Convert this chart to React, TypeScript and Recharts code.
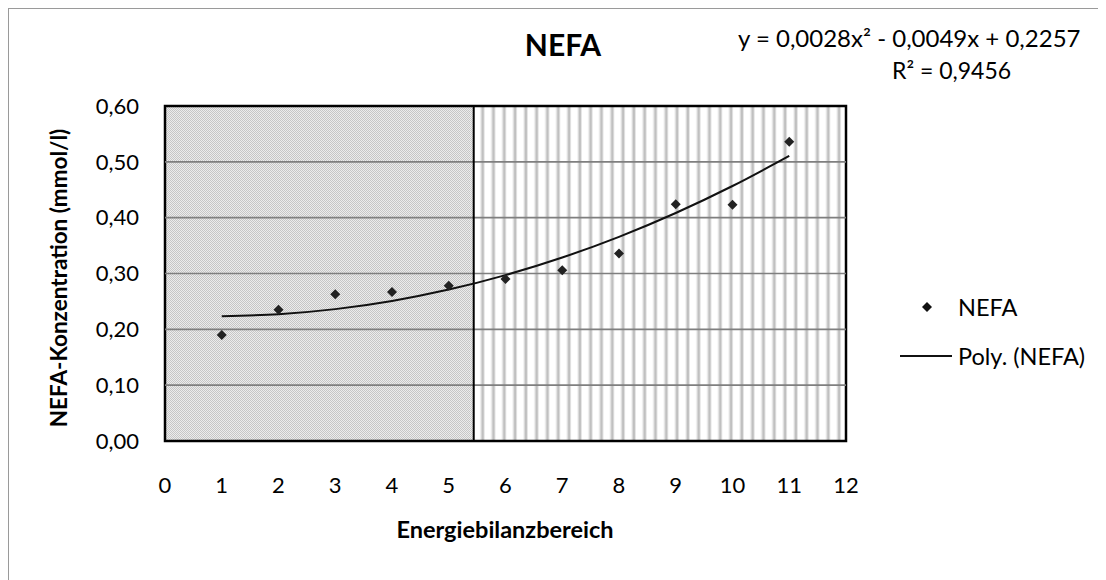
import React from 'react';
import { ComposedChart, XAxis, YAxis, Scatter, Line, ReferenceArea, ReferenceLine } from 'recharts';

const ENERGY_RANGES = [1, 2, 3, 4, 5, 6, 7, 8, 9, 10, 11];
const NEFA_VALUES = [0.19, 0.235, 0.263, 0.267, 0.278, 0.29, 0.306, 0.336, 0.424, 0.423, 0.536];
const POLY_TREND = [0.2236, 0.2271, 0.2362, 0.2509, 0.2712, 0.2971, 0.3286, 0.3657, 0.4084, 0.4567, 0.5106];
const X_TICKS = [0, 1, 2, 3, 4, 5, 6, 7, 8, 9, 10, 11, 12];
const Y_TICKS = [0, 0.1, 0.2, 0.3, 0.4, 0.5, 0.6];
const RANGE_SPLIT = 5.44;
const TITLE = 'NEFA';
const EQUATION = 'y = 0,0028x² - 0,0049x + 0,2257';
const R_SQUARED = 'R² = 0,9456';

const data = ENERGY_RANGES.map((x, i) => ({ x, nefa: NEFA_VALUES[i], trend: POLY_TREND[i] }));

const FONT = 'Lato, "Open Sans", sans-serif';

const Diamond = (p: any) => {
  const { cx, cy } = p;
  if (cx == null || cy == null) return null;
  const r = 5;
  return <path d={`M${cx},${cy - r} L${cx + r},${cy} L${cx},${cy + r} L${cx - r},${cy} Z`} fill="#222" />;
};

const fmt = (v: number) => v.toFixed(2).replace('.', ',');

export default function App() {
  const textBase: React.CSSProperties = { position: 'absolute', fontFamily: FONT, color: '#000', whiteSpace: 'nowrap' };
  return (
    <div style={{ position: 'relative', width: 1098, height: 572, background: '#fff', overflow: 'hidden' }}>
      <svg width={0} height={0} style={{ position: 'absolute' }}>
        <defs>
          <pattern id="dotsPat" patternUnits="userSpaceOnUse" width={2} height={2}>
            <rect x={0} y={0} width={2} height={2} fill="#ececec" />
            <rect x={0} y={0} width={1} height={1} fill="#c6c6c6" />
            <rect x={1} y={1} width={1} height={1} fill="#c6c6c6" />
          </pattern>
          <pattern id="stripePat" patternUnits="userSpaceOnUse" width={10.8} height={10} x={1.5}>
            <rect x={0} y={0} width={10.8} height={10} fill="#ffffff" />
            <rect x={6.5} y={0} width={1} height={10} fill="#e0e0e0" />
            <rect x={7.5} y={0} width={2.5} height={10} fill="#c0c0c0" />
            <rect x={10} y={0} width={0.8} height={10} fill="#e0e0e0" />
          </pattern>
        </defs>
      </svg>
      <div style={{ position: 'absolute', left: -1, top: -1, width: 1200, height: 700, borderLeft: '2px solid #9a9a9a', borderTop: '2px solid #9a9a9a', pointerEvents: 'none' }} />
      <ComposedChart
        width={1098}
        height={572}
        data={data}
        margin={{ top: 98, right: 260, bottom: 79, left: 77 }}
        style={{ fontFamily: FONT }}
      >
        <XAxis
          type="number"
          dataKey="x"
          domain={[0, 12]}
          ticks={X_TICKS}
          allowDataOverflow
          height={60}
          tickLine={false}
          axisLine={false}
          tickSize={0}
          tickMargin={36}
          tick={{ fill: '#000', fontSize: 22, fontFamily: FONT }}
        />
        <YAxis
          type="number"
          domain={[0, 0.6]}
          ticks={Y_TICKS}
          allowDataOverflow
          width={80}
          tickLine={false}
          axisLine={false}
          tickSize={0}
          tickMargin={26}
          tickFormatter={fmt}
          tick={{ fill: '#000', fontSize: 22, fontFamily: FONT }}
        />
        <ReferenceArea x1={0} x2={RANGE_SPLIT} y1={0} y2={0.6} fill="url(#dotsPat)" fillOpacity={1} stroke="none" ifOverflow="visible" />
        <ReferenceArea x1={RANGE_SPLIT} x2={12} y1={0} y2={0.6} fill="url(#stripePat)" fillOpacity={1} stroke="none" ifOverflow="visible" />
        {Y_TICKS.slice(1, -1).map((t) => (
          <ReferenceLine key={t} y={t} stroke="#7f7f7f" strokeWidth={1.6} ifOverflow="visible" />
        ))}
        <ReferenceLine x={RANGE_SPLIT} stroke="#000" strokeWidth={2} ifOverflow="visible" />
        <ReferenceArea x1={0} x2={12} y1={0} y2={0.6} fill="none" fillOpacity={0} stroke="#000" strokeWidth={2.5} ifOverflow="visible" />
        <Line
          dataKey="trend"
          type="monotone"
          stroke="#111"
          strokeWidth={2}
          dot={false}
          activeDot={false}
          isAnimationActive={false}
          legendType="none"
        />
        <Scatter dataKey="nefa" fill="#222" shape={Diamond} isAnimationActive={false} />
      </ComposedChart>

      <div style={{ ...textBase, left: 255, width: 600, top: 36 - 15, fontSize: 30, lineHeight: '30px', fontWeight: 700, textAlign: 'center' }}>{TITLE}</div>
      <div style={{ ...textBase, left: 730, top: 30 - 12, fontSize: 24, lineHeight: '24px' }}>{EQUATION}</div>
      <div style={{ ...textBase, left: 884, top: 62 - 11.5, fontSize: 23, lineHeight: '23px' }}>{R_SQUARED}</div>

      <div style={{ ...textBase, left: 51, top: 270, fontSize: 22.5, lineHeight: '22px', fontWeight: 700, transform: 'translate(-50%, -50%) rotate(-90deg)' }}>
        NEFA-Konzentration (mmol/l)
      </div>
      <div style={{ ...textBase, left: 197, width: 600, top: 521 - 12, fontSize: 23.5, lineHeight: '24px', fontWeight: 700, textAlign: 'center' }}>
        Energiebilanzbereich
      </div>

      <svg style={{ position: 'absolute', left: 880, top: 290 }} width={70} height={70}>
        <path d="M39,4 L44,9 L39,14 L34,9 Z" fill="#111" />
        <line x1={12} y1={58} x2={64} y2={58} stroke="#111" strokeWidth={2} />
      </svg>
      <div style={{ ...textBase, left: 950, top: 299 - 12, fontSize: 23.5, lineHeight: '24px' }}>NEFA</div>
      <div style={{ ...textBase, left: 950, top: 348 - 12, fontSize: 23.5, lineHeight: '24px' }}>Poly. (NEFA)</div>
    </div>
  );
}
